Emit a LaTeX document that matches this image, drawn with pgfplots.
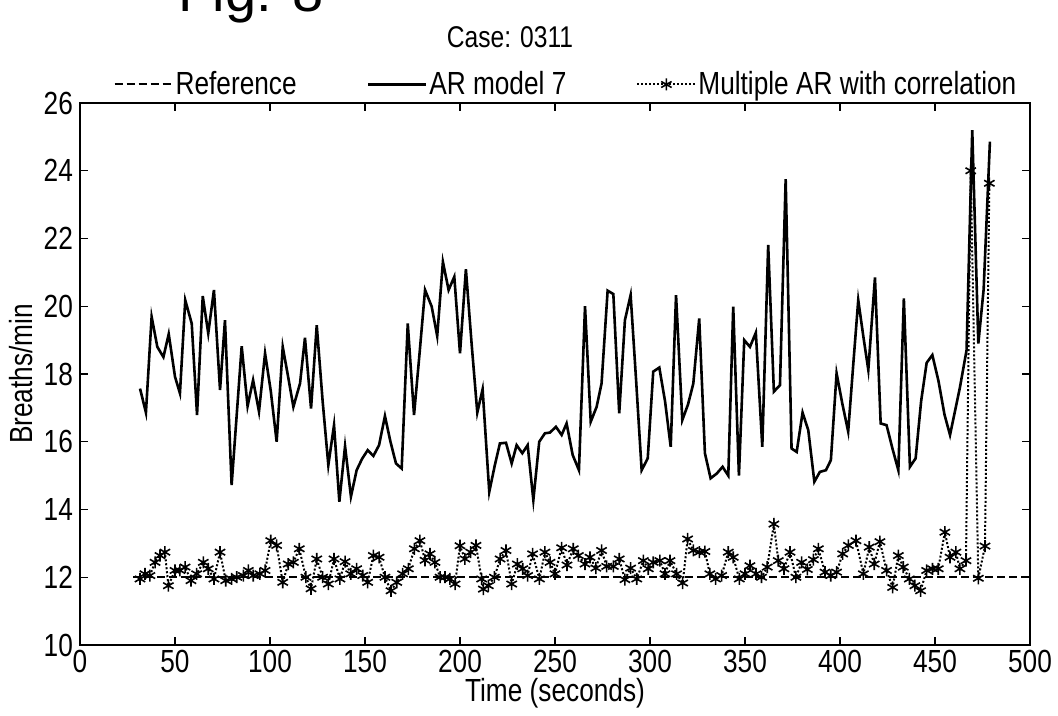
\documentclass[border=0pt]{standalone}
\usepackage{fontspec}
\setmainfont[FakeStretch=0.82]{Liberation Sans}
\newfontfamily\figfont{Liberation Sans}
\usepackage{pgfplots}
\pgfplotsset{compat=1.18}
\usetikzlibrary{plotmarks}

\pgfplotstableread{
x y
31.6 17.57
34.7 16.86
37.7 19.69
40.7 18.80
43.9 18.50
46.7 19.18
50.0 17.92
52.6 17.43
55.4 20.18
58.8 19.49
61.6 16.79
64.6 20.30
67.5 19.20
70.5 20.48
73.7 17.53
76.3 19.59
79.8 14.72
85.1 18.82
88.2 17.05
91.1 17.82
94.2 16.89
97.4 18.61
100.4 17.50
103.5 16.00
106.7 18.80
109.6 17.90
112.3 17.03
115.8 17.72
118.4 19.07
121.6 16.98
124.6 19.44
127.7 17.20
130.7 15.31
133.7 16.49
136.5 14.23
139.5 15.87
142.6 14.38
145.6 15.16
148.5 15.50
151.4 15.75
154.4 15.58
157.4 15.90
160.5 16.76
163.4 16.00
166.3 15.36
169.3 15.21
172.5 19.49
175.8 16.79
178.7 18.60
181.6 20.48
185.1 19.99
188.0 19.12
191.0 21.31
194.0 20.48
197.0 20.87
200.0 18.61
203.1 21.09
206.1 18.90
209.1 16.86
211.9 17.55
215.4 14.52
218.3 15.30
221.0 15.95
224.2 15.97
227.2 15.36
229.8 15.90
232.8 15.66
235.6 15.90
238.6 14.28
241.7 16.00
244.7 16.25
247.3 16.27
250.5 16.44
253.5 16.20
256.1 16.54
259.3 15.61
262.6 15.16
265.8 20.00
268.8 16.59
271.9 17.03
274.5 17.72
277.7 20.46
280.7 20.36
283.8 16.84
286.8 19.59
289.8 20.33
292.7 17.80
295.6 15.16
298.8 15.51
301.7 18.07
304.9 18.19
307.9 17.20
310.9 15.85
313.7 20.33
317.0 16.64
320.0 17.10
322.8 17.72
325.9 19.64
328.9 15.66
331.9 14.92
335.1 15.06
338.2 15.26
341.2 15.00
343.8 19.99
346.8 15.00
349.6 19.00
352.6 18.80
355.7 19.22
359.1 15.85
362.2 21.81
365.2 17.48
368.4 17.67
371.4 23.75
374.5 15.80
377.2 15.70
380.3 16.86
383.3 16.34
386.5 14.82
389.4 15.11
392.6 15.16
395.2 15.46
398.2 18.02
401.2 17.13
404.3 16.30
407.0 18.30
409.6 20.18
412.3 19.10
414.9 18.12
418.4 20.85
421.4 16.54
424.5 16.49
427.6 15.80
430.7 15.16
433.6 20.23
436.8 15.26
439.8 15.51
442.7 17.20
445.6 18.33
448.6 18.56
451.8 17.80
455.0 16.80
457.9 16.20
460.5 16.90
463.1 17.60
466.6 18.70
469.6 25.20
472.8 18.90
475.6 20.50
478.9 24.86
}\armodel

\pgfplotstableread{
x y
31.6 11.95
34.2 12.10
36.8 12.05
39.5 12.44
42.1 12.64
44.7 12.74
46.5 11.75
50.0 12.20
52.6 12.20
55.3 12.30
58.4 11.90
61.4 12.10
64.9 12.44
67.5 12.25
70.5 11.95
73.7 12.74
76.7 11.90
79.8 11.95
82.5 12.00
86.0 12.05
88.6 12.20
91.2 12.05
94.7 12.10
97.4 12.20
100.4 13.08
103.5 12.94
106.7 11.85
109.6 12.39
112.3 12.44
115.4 12.84
118.9 12.00
121.6 11.66
124.6 12.54
127.7 12.00
130.7 11.80
133.7 12.54
136.8 11.95
139.5 12.46
142.5 12.10
145.6 12.25
148.8 12.05
151.4 11.85
154.4 12.64
157.4 12.59
160.5 12.00
163.7 11.60
166.7 11.85
169.8 12.10
172.8 12.25
176.0 12.84
178.9 13.08
181.6 12.50
184.2 12.69
186.8 12.44
189.5 12.00
192.1 12.00
194.7 11.95
197.4 11.80
200.0 12.93
202.6 12.54
205.6 12.74
208.4 12.94
211.4 11.95
212.3 11.65
214.9 11.75
218.1 12.00
221.1 12.54
224.2 12.79
227.2 11.80
230.2 12.39
233.0 12.25
235.6 12.05
238.2 12.69
241.8 11.95
244.7 12.74
247.4 12.44
250.0 12.10
253.5 12.87
256.3 12.36
259.6 12.84
262.3 12.64
265.8 12.39
268.4 12.59
271.5 12.27
274.5 12.79
277.2 12.32
280.7 12.32
283.8 12.54
286.8 11.93
289.8 12.27
293.0 11.95
296.5 12.49
299.1 12.25
301.7 12.44
305.2 12.49
307.9 12.10
310.5 12.49
314.0 12.10
317.2 11.83
319.8 13.13
322.8 12.79
326.0 12.74
328.9 12.76
331.5 12.10
334.5 11.95
337.7 12.05
341.2 12.74
343.8 12.59
347.0 11.95
350.0 12.10
352.6 12.34
355.8 12.10
358.7 12.00
361.7 12.30
365.2 13.57
367.5 12.49
370.5 12.25
373.7 12.74
376.8 12.00
379.8 12.44
382.8 12.23
386.0 12.52
388.6 12.84
392.1 12.15
395.1 12.05
398.2 12.15
401.4 12.69
404.4 12.94
408.4 13.08
412.3 12.10
415.4 12.89
418.0 12.39
421.0 13.05
424.5 12.20
427.7 11.70
430.7 12.64
433.3 12.30
436.5 11.95
439.4 11.75
442.4 11.60
445.6 12.20
448.7 12.25
451.7 12.25
455.2 13.33
457.9 12.59
461.0 12.74
463.1 12.25
466.3 12.49
468.8 24.00
472.8 11.97
476.3 12.92
478.6 23.63
}\multar

\begin{document}
\begin{tikzpicture}[font=\fontsize{16}{18}\selectfont]
\useasboundingbox (-40pt,-35.5pt) rectangle (489pt,322.5pt);
\begin{axis}[
  scale only axis,
  width=475pt,height=271pt,
  xmin=0,xmax=500,ymin=10,ymax=26,
  xtick={0,50,...,500},ytick={10,12,...,26},
  tick align=inside,major tick length=4pt,
  axis line style={line width=0.75pt},
  tick style={line width=0.6pt,black},
  /pgf/number format/assume math mode=true,
  tick label style={font=\fontsize{16}{18}\selectfont},
  xticklabel style={yshift=1pt},
  label style={font=\fontsize{16}{18}\selectfont},
  xlabel={Time (seconds)},
  ylabel={Breaths/min},
  xlabel style={at={(axis description cs:0.5,-0.061)},anchor=north,inner sep=0pt},
  ylabel style={at={(axis description cs:-0.062,0.5)},anchor=center},
  clip=false,
  legend columns=-1,
  legend style={draw=none,fill=none,at={(0.035,1)},anchor=south west,
    yshift=1.5pt,inner sep=0pt,font=\fontsize{16}{18}\selectfont,
    nodes={inner sep=1pt},
    /tikz/every even column/.append style={column sep=34pt}},
  legend image code/.code={\draw[mark repeat=2,mark phase=2,#1]
    plot coordinates {(0pt,0pt) (14.5pt,0pt) (29pt,0pt)};},
]
\addplot[black,line width=1pt,dash pattern=on 4pt off 2pt] coordinates {(28,12) (500,12)};
\addplot[black,line width=1.3pt] table[x=x,y=y] {\armodel};
\addplot[black,line width=1pt,densely dotted,mark=asterisk,mark size=3pt,
  mark options={solid,line width=0.8pt}] table[x=x,y=y] {\multar};
\legend{Reference,AR model 7,Multiple AR with correlation}
\end{axis}
\node[anchor=base,font=\fontsize{15}{17}\selectfont] at (215pt,298.5pt) {Case: 0311};
\node[anchor=base west,inner sep=0pt,font=\figfont\fontsize{28}{30}\selectfont] at (49pt,316.5pt) {Fig. 8};
\end{tikzpicture}
\end{document}
